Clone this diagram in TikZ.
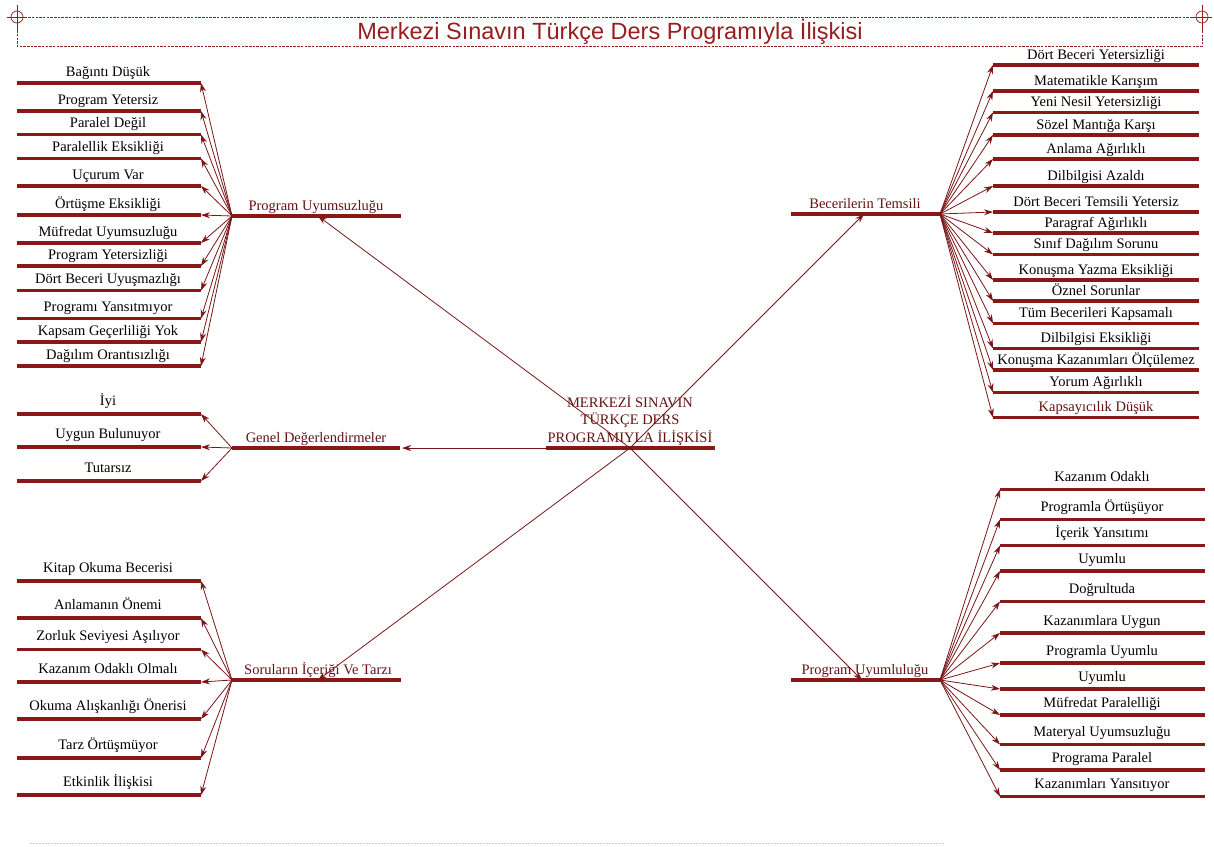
\documentclass[tikz,border=0pt]{standalone}
\usepackage{fontspec}
\setmainfont{Liberation Serif}
\newfontfamily\titlefont{Liberation Sans}
\usetikzlibrary{arrows.meta}
\definecolor{barred}{RGB}{138,24,24}
\definecolor{linkred}{RGB}{122,22,22}
\definecolor{headred}{RGB}{100,18,18}
\definecolor{framered}{RGB}{150,30,30}
\begin{document}
\begin{tikzpicture}[x=1pt,y=-1pt,
  bar/.style={draw=barred,line width=3.2pt},
  link/.style={draw=linkred,line width=0.8pt,-{Stealth[length=9pt,width=6pt]}},
  leaf/.style={anchor=base,inner sep=0pt,font=\fontsize{14.5}{17}\selectfont},
  head/.style={leaf,text=headred},
  crossmark/.style={draw=framered,line width=0.7pt}]
\useasboundingbox (0,0) rectangle (1214,846);

% title frame with corner marks
\draw[framered,dash pattern=on 2.5pt off 1.2pt,line width=0.9pt]
  (17,17) -- (1202,17) -- (1202,46) -- (17,46) -- cycle;
\foreach \cx in {17,1202}{
  \draw[crossmark] (\cx,17) circle (6);
  \draw[crossmark] (\cx-10,17) -- (\cx+10,17);
  \draw[crossmark] (\cx,5) -- (\cx,31);
}
\node[text=framered,font=\titlefont\fontsize{23.5}{26}\selectfont,inner sep=0pt]
  (title) at (610,32) {Merkezi Sınavın Türkçe Ders Programıyla İlişkisi};

% faint rule at the foot of the page
\draw[black!18,dash pattern=on 2pt off 1pt,line width=0.6pt] (30,843) -- (945,843);

% central topic
\coordinate (hub) at (630,448);
\draw[bar] (546,448) -- (715,448);
\node[align=center,text=headred,inner sep=0pt,font=\fontsize{14.5}{17.5}\selectfont,anchor=base]
  (center) at (630,442) {MERKEZİ SINAVIN\\TÜRKÇE DERS\\PROGRAMIYLA İLİŞKİSİ};

% main branches
\coordinate (puhub) at (232,216);  \coordinate (pu-in) at (318,216);
\draw[bar] (puhub) -- (401,216);
\node[head] (pu) at (316,210) {Program Uyumsuzluğu};

\coordinate (bthub) at (940,214);  \coordinate (bt-in) at (864,214);
\draw[bar] (791,214) -- (bthub);
\node[head] (bt) at (865,208) {Becerilerin Temsili};

\coordinate (gdhub) at (232,448);  \coordinate (gd-in) at (402,448);
\draw[bar] (gdhub) -- (400,448);
\node[head] (gd) at (316,442) {Genel Değerlendirmeler};

\coordinate (sthub) at (232,680);  \coordinate (st-in) at (318,680);
\draw[bar] (sthub) -- (401,680);
\node[head] (st) at (318,674) {Soruların İçeriği Ve Tarzı};

\coordinate (uyhub) at (940,680);  \coordinate (uy-in) at (862,680);
\draw[bar] (791,680) -- (uyhub);
\node[head] (uy) at (865,674) {Program Uyumluluğu};

\foreach \t in {pu,bt,gd,st,uy} \draw[link] (hub) -- (\t-in);

% Program Uyumsuzluğu
\foreach \y/\t [count=\i] in {
  83/{Bağıntı Düşük}, 111/{Program Yetersiz}, 134.5/{Paralel Değil},
  158.5/{Paralellik Eksikliği}, 186/{Uçurum Var}, 215/{Örtüşme Eksikliği},
  243/{Müfredat Uyumsuzluğu}, 266/{Program Yetersizliği}, 290.5/{Dört Beceri Uyuşmazlığı},
  318.5/{Programı Yansıtmıyor}, 342/{Kapsam Geçerliliği Yok}, 366/{Dağılım Orantısızlığı}}{
  \coordinate (pu-\i) at (201,\y);
  \draw[bar] (17,\y) -- (pu-\i);
  \node[leaf] (pu-t\i) at (108,\y-7) {\t};
  \draw[link] (puhub) -- (pu-\i);
}

% Genel Değerlendirmeler
\foreach \y/\t [count=\i] in {414/{İyi}, 447/{Uygun Bulunuyor}, 481/{Tutarsız}}{
  \coordinate (gd-\i) at (201,\y);
  \draw[bar] (17,\y) -- (gd-\i);
  \node[leaf] (gd-t\i) at (108,\y-9) {\t};
  \draw[link] (gdhub) -- (gd-\i);
}

% Soruların İçeriği Ve Tarzı
\foreach \y/\t [count=\i] in {
  581/{Kitap Okuma Becerisi}, 618/{Anlamanın Önemi}, 649.5/{Zorluk Seviyesi Aşılıyor},
  682/{Kazanım Odaklı Olmalı}, 719/{Okuma Alışkanlığı Önerisi}, 758/{Tarz Örtüşmüyor},
  795/{Etkinlik İlişkisi}}{
  \coordinate (st-\i) at (201,\y);
  \draw[bar] (17,\y) -- (st-\i);
  \node[leaf] (st-t\i) at (108,\y-9) {\t};
  \draw[link] (sthub) -- (st-\i);
}

% Becerilerin Temsili
\foreach \y/\t [count=\i] in {
  65/{Dört Beceri Yetersizliği}, 91/{Matematikle Karışım}, 112.5/{Yeni Nesil Yetersizliği},
  135/{Sözel Mantığa Karşı}, 159/{Anlama Ağırlıklı}, 186/{Dilbilgisi Azaldı},
  212/{Dört Beceri Temsili Yetersiz}, 233/{Paragraf Ağırlıklı}, 254.5/{Sınıf Dağılım Sorunu},
  280/{Konuşma Yazma Eksikliği}, 301/{Öznel Sorunlar}, 323.5/{Tüm Becerileri Kapsamalı},
  348.5/{Dilbilgisi Eksikliği}, 370/{Konuşma Kazanımları Ölçülemez}, 392.5/{Yorum Ağırlıklı},
  417.5/{\textcolor{headred}{Kapsayıcılık Düşük}}}{
  \coordinate (bt-\i) at (993,\y);
  \draw[bar] (bt-\i) -- (1199,\y);
  \node[leaf] (bt-t\i) at (1096,\y-6) {\t};
  \draw[link] (bthub) -- (bt-\i);
}

% Program Uyumluluğu
\foreach \y/\t [count=\i] in {
  489.5/{Kazanım Odaklı}, 519.5/{Programla Örtüşüyor}, 545.5/{İçerik Yansıtımı},
  571/{Uyumlu}, 601.5/{Doğrultuda}, 633/{Kazanımlara Uygun},
  663/{Programla Uyumlu}, 689/{Uyumlu}, 715/{Müfredat Paralelliği},
  744.5/{Materyal Uyumsuzluğu}, 770/{Programa Paralel}, 796.5/{Kazanımları Yansıtıyor}}{
  \coordinate (uy-\i) at (1000,\y);
  \draw[bar] (uy-\i) -- (1205,\y);
  \node[leaf] (uy-t\i) at (1102,\y-8) {\t};
  \draw[link] (uyhub) -- (uy-\i);
}
\end{tikzpicture}
\end{document}
